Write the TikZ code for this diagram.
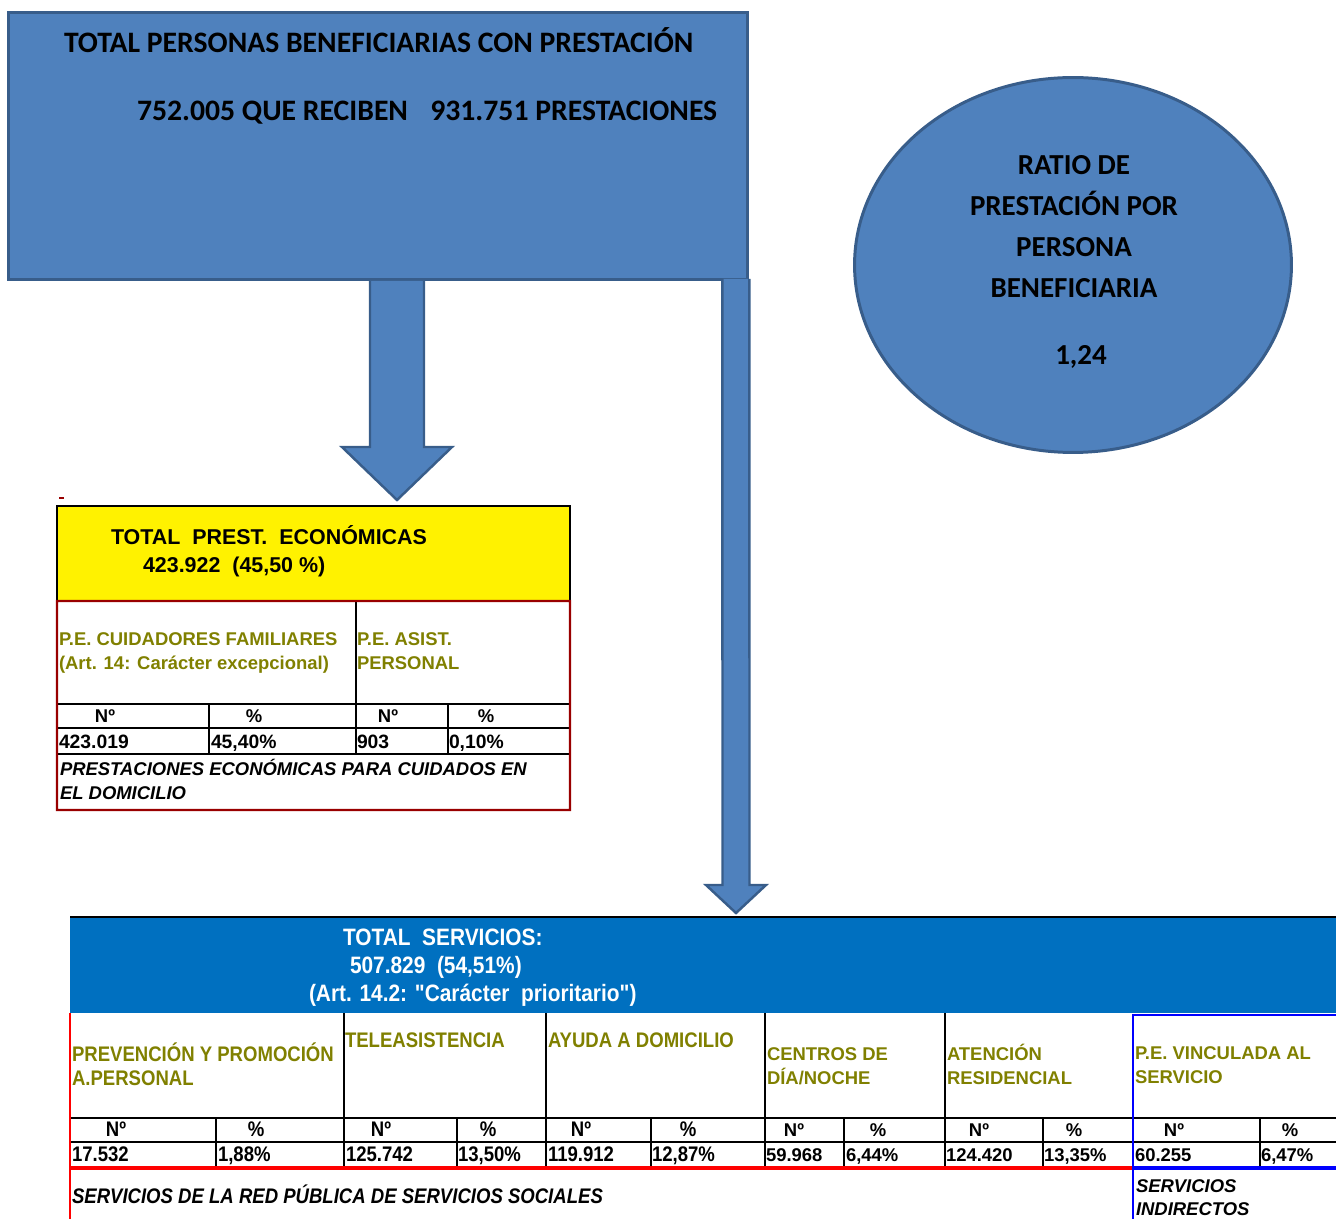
\documentclass[tikz,border=0pt]{standalone}
\usepackage{fontspec}
\setmainfont{Liberation Sans}
\newfontfamily\calibri{Carlito}
\newfontfamily\narrow[FakeStretch=0.88]{Liberation Sans}
\usepackage{xcolor}
\definecolor{boxblue}{HTML}{4F81BD}
\definecolor{boxedge}{HTML}{385D8A}
\definecolor{servblue}{HTML}{0070C0}
\definecolor{labolive}{HTML}{808000}
\definecolor{tabred}{HTML}{990000}
\usepackage{tikz}
\usetikzlibrary{shapes.geometric,calc}

% flecha de bloque: origen, punta, semiancho cuerpo, semiancho cabeza, largo cabeza
\newcommand{\flechabloque}[5]{%
  \draw[flecha] ($(#1)+(-#3,0)$) -- ($(#2)+(-#3,-#5)$) -- ($(#2)+(-#4,-#5)$) -- (#2)
     -- ($(#2)+(#4,-#5)$) -- ($(#2)+(#3,-#5)$) -- ($(#1)+(#3,0)$);}

\begin{document}
\begin{tikzpicture}[x=0.02cm, y=-0.02cm, every node/.style={inner sep=0, outer sep=0}]
    \tikzstyle{flecha}=[fill=boxblue, draw=boxedge, line width=1.4pt]
    \tikzstyle{rotulo}=[ %
      anchor=base west, align=left,
      text=labolive,
      font=\fontsize{10.5}{13.6}\selectfont\bfseries
    ]
    \tikzstyle{rotuloN}=[rotulo, font=\narrow\fontsize{12}{13.6}\selectfont\bfseries]
    \tikzstyle{cabcol}=[anchor=base, font=\fontsize{10.5}{12}\selectfont\bfseries]
    \tikzstyle{cabcolN}=[anchor=base, font=\narrow\fontsize{12}{13}\selectfont\bfseries]
    \tikzstyle{valor}=[anchor=base west, font=\fontsize{10.5}{12}\selectfont\bfseries]
    \tikzstyle{valorN}=[anchor=base west, font=\narrow\fontsize{12}{13}\selectfont\bfseries]
    \tikzstyle{cabserv}=[anchor=base west, text=white, font=\narrow\fontsize{13.5}{15}\selectfont\bfseries]
    \tikzstyle{rejilla}=[black, line width=1.1pt]
  %  \draw[help lines] (0,0) grid[step=100] (1336,1219);
    \useasboundingbox (0,0) rectangle (1336,1219);

    % caja superior y ratio
    \path (378,146) node(total) [rectangle, draw=boxedge, fill=boxblue, line width=1.7pt,
                minimum width=14.8cm, minimum height=5.36cm] {}
          (1073,265) node(ratio) [ellipse, draw=boxedge, fill=boxblue, line width=1.7pt,
                minimum width=8.74cm, minimum height=7.5cm] {};
    \node (tit1) [anchor=base west, font=\calibri\fontsize{16.9}{20}\selectfont\bfseries]
          at (64,53) {TOTAL PERSONAS BENEFICIARIAS CON PRESTACIÓN};
    \node (tit2) [anchor=base west, font=\calibri\fontsize{16.9}{20}\selectfont\bfseries]
          at (137,121) {752.005 QUE RECIBEN\hspace{0.75em}931.751 PRESTACIONES};
    \node (ratiotxt) [align=center, font=\calibri\fontsize{16.5}{23.3}\selectfont\bfseries]
          at (1074,262) {RATIO DE\\PRESTACIÓN POR\\PERSONA\\BENEFICIARIA\\[15pt]\hspace*{8pt}1,24};

    % prestaciones economicas
    \path (313.5,553.5) node(econ) [rectangle, fill=yellow,
                minimum width=10.26cm, minimum height=1.9cm] {};
    \draw[tabred, line width=1pt] (59,498) -- (64,498);
    \draw[rejilla] (356,601) -- (356,754);
    \draw[rejilla] (57,704) -- (570,704) (57,728) -- (570,728) (57,754) -- (570,754);
    \draw[rejilla] (209,704) -- (209,754) (448,704) -- (448,754);
    \draw[black, line width=1.2pt] (econ.south west) |- (econ.north east) -- (econ.south east);
    \draw[tabred, line width=1.2pt] (econ.south west) -- (57,810) -- (570,810) -- (econ.south east) -- cycle;
    \node (econtit) [anchor=base west, font=\fontsize{12.2}{14}\selectfont\bfseries]
          at (111,545) {TOTAL~ PREST.~ ECONÓMICAS};
    \node (econnum) [anchor=base west, font=\fontsize{12.2}{14}\selectfont\bfseries]
          at (143,573) {423.922~ (45,50 \%)};
    \node (pecf) [rotulo] at (59,669.5) {P.E. CUIDADORES FAMILIARES\\(Art. 14: Carácter excepcional)};
    \node (peap) [rotulo] at (357,669.5) {P.E. ASIST.\\PERSONAL};
    \foreach \x/\t [count=\i] in {105/Nº, 254/\%, 388/Nº, 486/\%}
      \node (ecab\i) [cabcol] at (\x,722.5) {\t};
    \foreach \x/\t [count=\i] in {59/423.019, 211/{45,40\%}, 357/903, 449/{0,10\%}}
      \node (eval\i) [valor, font=\fontsize{11}{12}\selectfont\bfseries] at (\x,748) {\t};
    \node (econpie) [anchor=base west, align=left, font=\fontsize{10.5}{13.6}\selectfont\bfseries\itshape]
          at (60,799) {PRESTACIONES ECONÓMICAS PARA CUIDADOS EN\\EL DOMICILIO};

    % servicios
    \path (705,965) node(serv) [rectangle, fill=servblue,
                minimum width=25.4cm, minimum height=1.92cm] {};
    \draw[black, line width=1.5pt] (serv.north west) -- (serv.north east);
    \draw[rejilla] (70,1118) -- (1340,1118) (70,1142) -- (1340,1142);
    \foreach \x in {344,546,765,945}
      \draw[rejilla] (\x,1013) -- (\x,1168);
    \foreach \x in {216,457,651,844,1043,1260}
      \draw[rejilla] (\x,1118) -- (\x,1168);
    \draw[red, line width=1.2pt] (70,1013) -- (70,1219);
    \draw[red, line width=1.8pt] (70,1168) -- (1133,1168);
    \draw[blue, line width=1.3pt] (1340,1015) -- (1133,1015) -- (1133,1219);
    \draw[blue, line width=1.8pt] (1133,1168) -- (1340,1168);
    \node (stit1) [cabserv] at (343,945) {TOTAL~ SERVICIOS:};
    \node (stit2) [cabserv] at (350,973) {507.829~ (54,51\%)};
    \node (stit3) [cabserv] at (309,1001) {(Art. 14.2: "Carácter~ prioritario")};
    \node (sprev) [rotuloN] at (72,1085) {PREVENCIÓN Y PROMOCIÓN\\A.PERSONAL};
    \node (stele) [rotuloN] at (345,1047) {TELEASISTENCIA};
    \node (sayud) [rotuloN] at (548,1047) {AYUDA A DOMICILIO};
    \node (scent) [rotulo] at (767,1084.5) {CENTROS DE\\DÍA/NOCHE};
    \node (sresi) [rotulo] at (947,1084.5) {ATENCIÓN\\RESIDENCIAL};
    \node (spevs) [rotulo] at (1135,1083.5) {P.E. VINCULADA AL\\SERVICIO};
    \foreach \x/\t [count=\i] in {116/Nº, 256/\%, 381/Nº, 488/\%, 581/Nº, 688/\%}
      \node (scabn\i) [cabcolN] at (\x,1136.5) {\t};
    \foreach \x/\t [count=\i] in {794/Nº, 878/\%, 979/Nº, 1074/\%, 1174/Nº, 1290/\%}
      \node (scabr\i) [cabcol] at (\x,1136.5) {\t};
    \foreach \x/\t [count=\i] in {72/17.532, 218/{1,88\%}, 346/125.742, 458/{13,50\%}, 548/119.912, 652/{12,87\%}}
      \node (svaln\i) [valorN] at (\x,1161) {\t};
    \foreach \x/\t [count=\i] in {766/59.968, 846/{6,44\%}, 946/124.420, 1044/{13,35\%}, 1135/60.255, 1261/{6,47\%}}
      \node (svalr\i) [valor] at (\x,1161) {\t};
    \node (spie) [anchor=base west, font=\narrow\fontsize{12}{14}\selectfont\bfseries\itshape]
          at (72,1203) {SERVICIOS DE LA RED PÚBLICA DE SERVICIOS SOCIALES};
    \node (sind) [anchor=base west, align=left, font=\fontsize{10.5}{13}\selectfont\bfseries\itshape]
          at (1136,1215) {SERVICIOS\\INDIRECTOS};

    % flechas
    \coordinate (fe0) at ($(total.south)+(19,1)$);
    \coordinate (fe1) at ($(econ.north)+(83.5,-6)$);
    \coordinate (fs0) at ($(total.south east)+(-12,-1)$);
    \coordinate (fs1) at ($(serv.north)+(31,-4)$);
    \flechabloque{fe0}{fe1}{27}{55}{53}
    \flechabloque{fs0}{fs1}{13.5}{30}{28}
  \end{tikzpicture}
\end{document}
